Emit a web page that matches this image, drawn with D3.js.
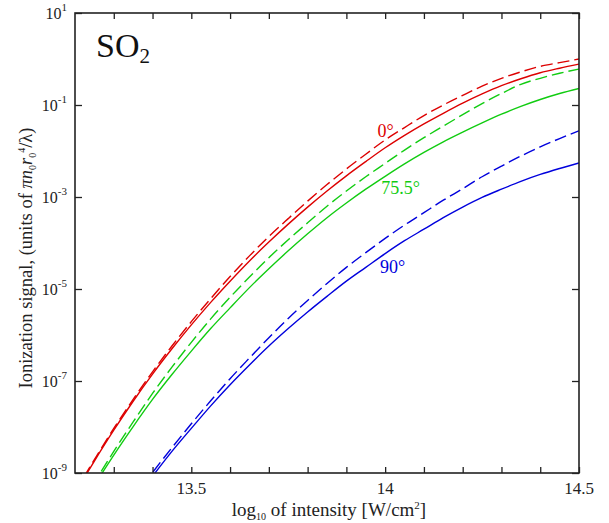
<!DOCTYPE html>
<html>
<head>
<meta charset="utf-8">
<script src="https://cdn.jsdelivr.net/npm/d3@7"></script>
<style>
  body { margin: 0; background: #fff; }
</style>
</head>
<body>
<div id="chart"></div>
<script>
const serif = "'Liberation Serif', 'Times New Roman', 'DejaVu Serif', serif";

// log10 of intensity [W/cm^2]
const logIntensity = [13.2, 13.25, 13.3, 13.35, 13.4, 13.45, 13.5, 13.55, 13.6, 13.65, 13.7, 13.75, 13.8, 13.85,
    13.9, 13.95, 14.0, 14.05, 14.1, 14.15, 14.2, 14.25, 14.3, 14.35, 14.4, 14.45, 14.5];

// log10 of ionization signal
const red0Solid = [-9.44, -8.74, -8.07, -7.44, -6.85, -6.30, -5.78, -5.29, -4.83, -4.39, -3.98, -3.59, -3.22, -2.87,
    -2.54, -2.23, -1.93, -1.66, -1.41, -1.18, -0.96, -0.76, -0.58, -0.43, -0.30, -0.20, -0.11];
const red0Dashed = [-9.41, -8.71, -8.03, -7.40, -6.80, -6.24, -5.71, -5.21, -4.73, -4.28, -3.86, -3.47, -3.09, -2.73,
    -2.39, -2.07, -1.76, -1.49, -1.23, -1.00, -0.79, -0.59, -0.42, -0.28, -0.16, -0.08, 0.0];
const green75Solid = [-9.97, -9.27, -8.61, -7.99, -7.40, -6.86, -6.35, -5.86, -5.41, -4.97, -4.56, -4.17, -3.80, -3.45,
    -3.13, -2.83, -2.55, -2.28, -2.03, -1.80, -1.59, -1.39, -1.20, -1.03, -0.88, -0.75, -0.64];
const green75Dashed = [-9.92, -9.21, -8.53, -7.89, -7.27, -6.70, -6.16, -5.65, -5.18, -4.74, -4.32, -3.93, -3.56, -3.20,
    -2.87, -2.56, -2.27, -1.98, -1.71, -1.46, -1.21, -0.97, -0.75, -0.55, -0.42, -0.31, -0.22];
const blue90Solid = [-11.5, -10.9, -10.22, -9.63, -9.07, -8.53, -8.03, -7.54, -7.08, -6.65, -6.24, -5.86, -5.50, -5.16,
    -4.83, -4.53, -4.23, -3.95, -3.70, -3.45, -3.22, -3.01, -2.83, -2.66, -2.51, -2.38, -2.26];
const blue90Dashed = [-11.4, -10.8, -10.13, -9.56, -8.99, -8.45, -7.93, -7.43, -6.95, -6.50, -6.06, -5.64, -5.25, -4.88,
    -4.53, -4.21, -3.90, -3.61, -3.34, -3.07, -2.82, -2.56, -2.33, -2.11, -1.91, -1.73, -1.56];

const series = [
    {values: red0Solid, color: "#dd0000", dash: null},
    {values: red0Dashed, color: "#dd0000", dash: "12,5"},
    {values: green75Solid, color: "#11cc11", dash: null},
    {values: green75Dashed, color: "#11cc11", dash: "12,5"},
    {values: blue90Solid, color: "#0000dd", dash: null},
    {values: blue90Dashed, color: "#0000dd", dash: "12,5"}
];

const angleLabels = [
    {text: "0°", logI: 13.98, logS: -1.7, color: "#dd0000"},
    {text: "75.5°", logI: 13.99, logS: -2.93, color: "#11cc11"},
    {text: "90°", logI: 13.987, logS: -4.65, color: "#0000dd"}
];

const xTicks = [13.3, 13.4, 13.5, 13.6, 13.7, 13.8, 13.9, 14.0, 14.1, 14.2, 14.3, 14.4, 14.5];
const xTickLabels = [13.5, 14, 14.5];
const yTickExps = [1, -1, -3, -5, -7, -9];

const width = 609, height = 523;
const margin = {left: 75, right: 30, top: 13, bottom: 50};

const svg = d3.select("#chart").append("svg")
    .attr("width", width)
    .attr("height", height)
    .style("font-family", serif);

const x = d3.scaleLinear().domain([13.2, 14.5]).range([margin.left, width - margin.right]);
const y = d3.scaleLinear().domain([-9, 1]).range([height - margin.bottom, margin.top]);

svg.append("defs").append("clipPath").attr("id", "plot")
    .append("rect")
    .attr("x", x(13.2)).attr("y", y(1))
    .attr("width", x(14.5) - x(13.2)).attr("height", y(-9) - y(1));

const line = d3.line()
    .x((d, i) => x(logIntensity[i]))
    .y(d => y(d))
    .curve(d3.curveMonotoneX);

svg.append("g").attr("clip-path", "url(#plot)")
    .selectAll("path")
    .data(series)
    .enter().append("path")
    .attr("d", d => line(d.values))
    .attr("fill", "none")
    .attr("stroke", d => d.color)
    .attr("stroke-width", 1.4)
    .attr("stroke-dasharray", d => d.dash);

// frame
svg.append("rect")
    .attr("x", x(13.2)).attr("y", y(1))
    .attr("width", x(14.5) - x(13.2)).attr("height", y(-9) - y(1))
    .attr("fill", "none")
    .attr("stroke", "#222")
    .attr("stroke-width", 1.6);

// x ticks, inward on bottom and top
const xAxisBottom = d3.axisBottom(x).tickValues(xTicks).tickSize(-6).tickFormat("");
const xAxisTop = d3.axisTop(x).tickValues(xTicks).tickSize(-6).tickFormat("");
svg.append("g").attr("transform", `translate(0,${y(-9)})`).call(xAxisBottom);
svg.append("g").attr("transform", `translate(0,${y(1)})`).call(xAxisTop);

// y ticks, inward on left and right
const yAxisLeft = d3.axisLeft(y).tickValues(yTickExps).tickSize(-7).tickFormat("");
const yAxisRight = d3.axisRight(y).tickValues(yTickExps).tickSize(-7).tickFormat("");
svg.append("g").attr("transform", `translate(${x(13.2)},0)`).call(yAxisLeft);
svg.append("g").attr("transform", `translate(${x(14.5)},0)`).call(yAxisRight);

svg.selectAll(".domain").remove();
svg.selectAll(".tick line").attr("stroke", "#222").attr("stroke-width", 1.3);

// tick labels
svg.append("g").selectAll("text")
    .data(xTickLabels)
    .enter().append("text")
    .attr("x", d => x(d))
    .attr("y", y(-9) + 21)
    .attr("text-anchor", "middle")
    .attr("font-size", 17)
    .style("font-family", serif)
    .attr("fill", "#222")
    .text(d => d);

const yLab = svg.append("g").selectAll("text")
    .data(yTickExps)
    .enter().append("text")
    .attr("x", x(13.2) - 8)
    .attr("y", d => y(d) + 6)
    .attr("text-anchor", "end")
    .attr("font-size", 16)
    .style("font-family", serif)
    .attr("fill", "#222");
yLab.append("tspan").text("10");
yLab.append("tspan").attr("font-size", 11).attr("dy", -8).text(d => d < 0 ? "-" + (-d) : d);

// axis titles
const xt = svg.append("text")
    .attr("x", (x(13.2) + x(14.5)) / 2 + 2)
    .attr("y", height - 7)
    .attr("text-anchor", "middle")
    .attr("font-size", 19)
    .style("font-family", serif)
    .attr("fill", "#222");
xt.append("tspan").text("log");
xt.append("tspan").attr("font-size", 10).attr("dy", 4).text("10");
xt.append("tspan").attr("dy", -4).text(" of intensity [W/cm");
xt.append("tspan").attr("font-size", 11).attr("dy", -7).text("2");
xt.append("tspan").attr("dy", 7).text("]");

const yt = svg.append("text")
    .attr("transform", `translate(32,${(y(1) + y(-9)) / 2 + 15}) rotate(-90)`)
    .attr("text-anchor", "middle")
    .attr("font-size", 18.5)
    .style("font-family", serif)
    .attr("fill", "#222");
yt.append("tspan").text("Ionization signal,  (units of ");
yt.append("tspan").attr("font-style", "italic").text("πn");
yt.append("tspan").attr("font-size", 10).attr("dy", 4).text("0");
yt.append("tspan").attr("font-style", "italic").attr("dy", -4).text("r");
yt.append("tspan").attr("font-size", 10).attr("dy", 4).text("0");
yt.append("tspan").attr("font-size", 10).attr("dy", -11).text("4");
yt.append("tspan").attr("dy", 7).text("/λ)");

// molecule label
const title = svg.append("text")
    .attr("x", 96)
    .attr("y", 57)
    .attr("font-size", 34)
    .style("font-family", serif)
    .attr("fill", "#111");
title.append("tspan").text("SO");
title.append("tspan").attr("font-size", 21).attr("dy", 6).text("2");

// angle labels
svg.append("g").selectAll("text")
    .data(angleLabels)
    .enter().append("text")
    .attr("x", d => x(d.logI))
    .attr("y", d => y(d.logS))
    .attr("font-size", 18)
    .style("font-family", serif)
    .attr("fill", d => d.color)
    .text(d => d.text);
</script>
</body>
</html>
